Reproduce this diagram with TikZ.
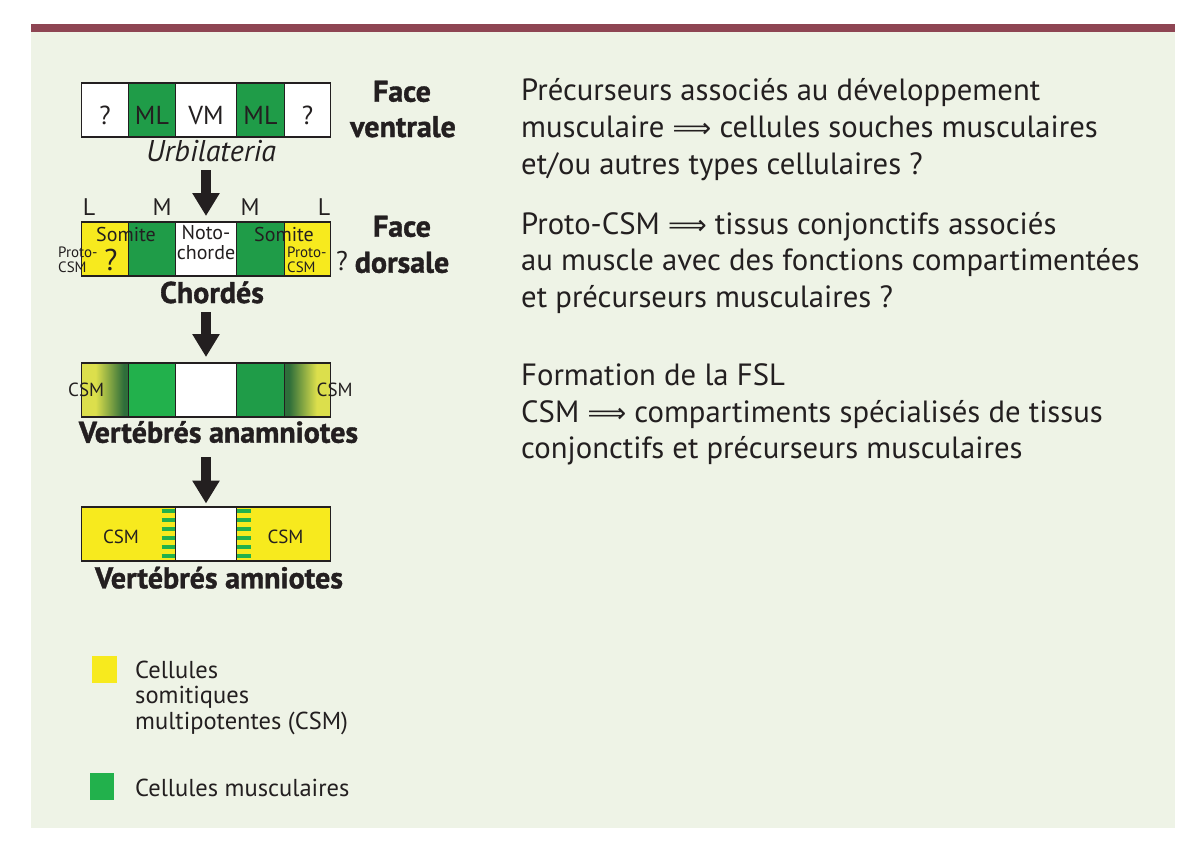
\documentclass[tikz,border=0pt]{standalone}
\usepackage{fontspec}
\setmainfont{PT Sans}
\newfontfamily\symfont{DejaVu Sans}
\usetikzlibrary{arrows.meta}

\definecolor{panel}{HTML}{EEF3E6}
\definecolor{barred}{HTML}{8E4553}
\definecolor{ink}{HTML}{231F20}
\definecolor{mus}{HTML}{1F9C48}
\definecolor{musl}{HTML}{22B14C}
\definecolor{musd}{HTML}{2E6E3A}
\definecolor{csm}{HTML}{F7EA1E}
\definecolor{csmg}{HTML}{DCDF4C}

\newcommand{\impl}{{\symfont\fontsize{27}{27}\selectfont ⟹}}

% yellow cells fading into muscle (vertebres anamniotes)
\pgfdeclarehorizontalshading{csmtomus}{100bp}{color(0bp)=(csmg); color(25bp)=(csmg); color(40bp)=(csmg); color(70bp)=(musd); color(100bp)=(musd)}
\pgfdeclarehorizontalshading{mustocsm}{100bp}{color(0bp)=(musd); color(30bp)=(musd); color(60bp)=(csmg); color(100bp)=(csmg)}

\tikzset{
  cell/.style={draw=ink, line width=1.6pt, anchor=north west, minimum height=54pt, inner sep=0pt, outer sep=0pt},
  ctext/.style={font=\fontsize{26}{26}\selectfont, text=ink, text height=28pt, text depth=0pt},
  head/.style={font=\bfseries\addfontfeatures{FakeBold=1.2}\fontsize{30}{30}\selectfont, text=ink, anchor=base, inner sep=0pt},
  body/.style={font=\fontsize{30.7}{30.7}\selectfont, text=ink, anchor=base west, inner sep=0pt},
  small/.style={font=\fontsize{20}{20}\selectfont, text=ink, anchor=base, inner sep=0pt},
  tiny/.style={font=\fontsize{15}{15}\selectfont, text=ink, anchor=base west, inner sep=0pt},
  legtxt/.style={font=\fontsize{24.5}{24.5}\selectfont, text=ink, anchor=base west, inner sep=0pt},
  keybox/.style={anchor=north west, minimum width=25pt, minimum height=27pt, inner sep=0pt},
  bigarrow/.style={ink, line width=9.5pt, -{Triangle[width=26pt,length=23pt]}},
  stripe/.style={musl, line width=4pt}
}

\begin{document}
\begin{tikzpicture}[x=1pt,y=-1pt]
\useasboundingbox (0,0) rectangle (1200,852);
\fill[panel] (31,32) rectangle (1175,828);
\fill[barred] (31,24) rectangle (1175,32);

% Urbilateria, face ventrale
\node[cell,ctext,fill=white,minimum width=47pt] (u1) at (81.5,83) {?};
\node[cell,ctext,fill=mus,minimum width=47pt] (u2) at (128.5,83) {ML};
\node[cell,ctext,fill=white,minimum width=61pt] (u3) at (175.5,83) {VM};
\node[cell,ctext,fill=mus,minimum width=48pt] (u4) at (236.5,83) {ML};
\node[cell,ctext,fill=white,minimum width=46pt] (u5) at (284.5,83) {?};
\node[head] (faceV) at (402,101.7) {Face};
\node[head] (ventrale) at (403,137) {ventrale};
\node[font=\itshape\fontsize{30}{30}\selectfont, text=ink, anchor=base, inner sep=0pt] (urbi) at (211,161.7) {Urbilateria};

\coordinate (a1) at (206,170);

% Chordes, face dorsale
\node[cell,fill=csm,minimum width=47pt] (c1) at (81.5,222) {};
\node[cell,fill=mus,minimum width=47pt] (c2) at (128.5,222) {};
\node[cell,fill=white,minimum width=61pt] (c3) at (175.5,222) {};
\node[cell,fill=mus,minimum width=48pt] (c4) at (236.5,222) {};
\node[cell,fill=csm,minimum width=46pt] (c5) at (284.5,222) {};
\foreach \x/\t [count=\i] in {89/L,162/M,250/M,324/L}
  \node[font=\fontsize{24}{24}\selectfont, text=ink, anchor=base, inner sep=0pt] (lm\i) at (\x,215.7) {\t};
\node[small,anchor=base west] (som1) at (96,241.5) {Somite};
\node[small,anchor=base west] (som2) at (254,241.5) {Somite};
\node[small,anchor=north,align=center,font=\fontsize{20}{19.3}\selectfont] (noto) at (206,225.5) {Noto-\\chorde};
\node[tiny] (pro1) at (58,257.5) {Proto-};
\node[tiny] (csm1) at (58,272.5) {CSM};
\node[tiny] (pro2) at (287,257.5) {Proto-};
\node[tiny] (csm2) at (287,272.5) {CSM};
\node[small,font=\fontsize{30}{30}\selectfont] (q1) at (111,270) {?};
\node[small,font=\fontsize{27}{27}\selectfont] (q2) at (342,270) {?};
\node[head] (faceD) at (402,236.7) {Face};
\node[head] (dorsale) at (402,272.7) {dorsale};
\node[head] (chord) at (212,303) {Chordés};

\draw[bigarrow,shorten >=6pt] (a1) -- (c3.north);
\coordinate (a2) at (206,312);

% Vertebres anamniotes
\node[cell,shade,shading=csmtomus,minimum width=47pt] (v1) at (81.5,363) {};
\node[cell,fill=musl,minimum width=47pt] (v2) at (128.5,363) {};
\node[cell,fill=white,minimum width=61pt] (v3) at (175.5,363) {};
\node[cell,fill=mus,minimum width=48pt] (v4) at (236.5,363) {};
\node[cell,shade,shading=mustocsm,minimum width=46pt] (v5) at (284.5,363) {};
\node[small,anchor=base west,font=\fontsize{19}{19}\selectfont] (csm3) at (68,396.7) {CSM};
\node[small,anchor=base west,font=\fontsize{19}{19}\selectfont] (csm4) at (316.5,396.7) {CSM};
\node[head] (anam) at (218.5,442.7) {Vertébrés anamniotes};

\draw[bigarrow,shorten >=6pt] (a2) -- (v3.north);
\coordinate (a3) at (206,457);

% Vertebres amniotes
\node[cell,fill=csm,minimum width=94pt] (m1) at (81.5,507) {};
\node[cell,fill=csm,minimum width=94pt] (m3) at (236.5,507) {};
\foreach \y in {511,520,...,556}{
  \draw[stripe] (161.5,\y) -- (175,\y);
  \draw[stripe] (237,\y) -- (250.5,\y);
}
\node[cell,fill=white,minimum width=61pt] (m2) at (175.5,507) {};
\node[small,font=\fontsize{19}{19}\selectfont] (csm5) at (121,543.3) {CSM};
\node[small,font=\fontsize{19}{19}\selectfont] (csm6) at (285.5,543.3) {CSM};
\node[head] (amn) at (219,588.3) {Vertébrés amniotes};

\draw[bigarrow,shorten >=3.5pt] (a3) -- (m2.north);

% texte
\foreach \yb/\txt [count=\i] in {
  100/{Précurseurs associés au développement},
  137/{musculaire \impl{} cellules souches musculaires},
  174/{et/ou autres types cellulaires ?},
  234/{Proto-CSM \impl{} tissus conjonctifs associés},
  270/{au muscle avec des fonctions compartimentées},
  307/{et précurseurs musculaires ?},
  385/{Formation de la FSL},
  422/{CSM \impl{} compartiments spécialisés de tissus},
  458/{conjonctifs et précurseurs musculaires}}
  \node[body] (p\i) at (521,\yb) {\txt};

% legende
\node[keybox,fill=csm] (keyY) at (92,656) {};
\node[legtxt] (k1) at (135,678.3) {Cellules};
\node[legtxt] (k2) at (135,703.5) {somitiques};
\node[legtxt] (k3) at (135,729) {multipotentes (CSM)};
\node[keybox,fill=musl,minimum width=24pt] (keyG) at (89.5,772.5) {};
\node[legtxt] (k4) at (135,796.7) {Cellules musculaires};
\end{tikzpicture}
\end{document}
